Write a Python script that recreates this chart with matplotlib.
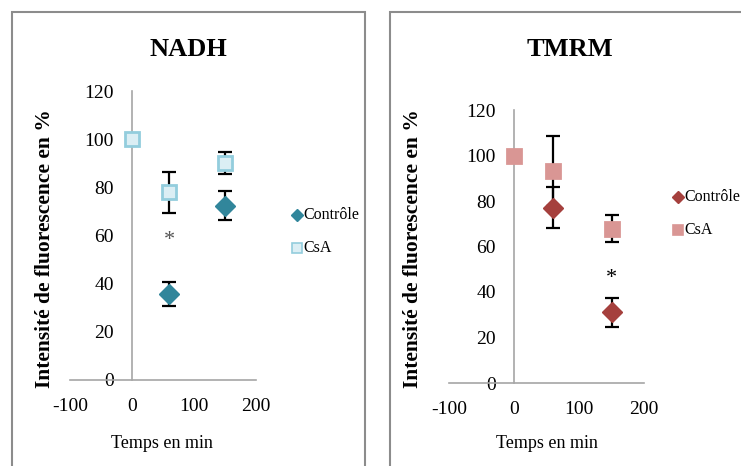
import matplotlib.pyplot as plt
from matplotlib.patches import Rectangle

# temps (min) et intensités (%)
t_ctrl = [60, 150]
t_csa = [0, 60, 150]

nadh_ctrl = [35.7, 72.4]
nadh_ctrl_err = [5.0, 6.0]
nadh_csa = [100, 78.0, 90.0]
nadh_csa_err = [0, 8.5, 4.5]
nadh_star = (60, 58)

tmrm_ctrl = [77.0, 31.0]
tmrm_ctrl_err = [9.0, 6.2]
tmrm_csa = [100, 93.2, 67.8]
tmrm_csa_err = [0, 15.2, 6.0]
tmrm_star = (150, 46)

xticks = [-100, 0, 100, 200]
yticks = [0, 20, 40, 60, 80, 100, 120]

plt.rcParams['font.family'] = ['Liberation Serif', 'DejaVu Serif']
plt.rcParams['axes.unicode_minus'] = False

fig = plt.figure(figsize=(7.41, 4.66), dpi=100)


def panel(rect, title, ctrl, ctrl_err, csa, csa_err, star, c_ctrl, c_fill, c_edge, star_col,
          title_xy, ylab_x, xlab_x, leg_xy):
    ax = fig.add_axes(rect)
    ax.set_xlim(-100, 200)
    ax.set_ylim(0, 120)
    for s in ['top', 'right']:
        ax.spines[s].set_visible(False)
    ax.spines['left'].set_position(('data', 0))
    ax.spines['bottom'].set_position(('data', 0))
    for s in ['left', 'bottom']:
        ax.spines[s].set_color('#a6a6a6')
        ax.spines[s].set_linewidth(1.2)
    ax.set_xticks(xticks)
    ax.set_yticks(yticks)
    ax.tick_params(length=0, labelsize=14)
    ax.tick_params(axis='y', pad=13)
    ax.tick_params(axis='x', pad=13)
    ax.patch.set_visible(False)

    ax.errorbar(t_ctrl, ctrl, yerr=ctrl_err, fmt='none', ecolor='black',
                elinewidth=1.6, capsize=5, capthick=1.6, zorder=2)
    ax.errorbar(t_csa, csa, yerr=csa_err, fmt='none', ecolor='black',
                elinewidth=1.6, capsize=5, capthick=1.6, zorder=2)
    ax.plot(t_csa, csa, ls='none', marker='s', ms=10.5, mfc=c_fill, mec=c_edge,
            mew=2, zorder=3, label='CsA', clip_on=False)
    ax.plot(t_ctrl, ctrl, ls='none', marker='D', ms=10, color=c_ctrl,
            zorder=4, label='Contrôle', clip_on=False)
    ax.text(star[0], star[1], '*', ha='center', va='center', fontsize=16, color=star_col)

    fig.text(title_xy[0] / 741, 1 - title_xy[1] / 466, title, ha='center', va='center',
             fontsize=19, fontweight='bold')
    fig.text(ylab_x / 741, 1 - 249 / 466, 'Intensité de fluorescence en %', rotation=90,
             ha='center', va='center', fontsize=15.5, fontweight='bold')
    fig.text(xlab_x / 741, 1 - 443 / 466, 'Temps en min', ha='center', va='center', fontsize=13)

    # légende
    lx, ly = leg_xy
    fig.lines.append(plt.Line2D([lx / 741], [1 - ly / 466], transform=fig.transFigure,
                                marker='D', ms=6, color=c_ctrl, ls='none'))
    fig.text((lx + 6) / 741, 1 - ly / 466, 'Contrôle', ha='left', va='center', fontsize=11.5)
    fig.lines.append(plt.Line2D([lx / 741], [1 - (ly + 33) / 466], transform=fig.transFigure,
                                marker='s', ms=7, mfc=c_fill, mec=c_edge, mew=1.2, ls='none'))
    fig.text((lx + 6) / 741, 1 - (ly + 33) / 466, 'CsA', ha='left', va='center', fontsize=11.5)


panel([70 / 741, 86 / 466, 186 / 741, 289 / 466], 'NADH',
      nadh_ctrl, nadh_ctrl_err, nadh_csa, nadh_csa_err, nadh_star,
      '#31869b', '#dbeef4', '#93cddd', '#555555',
      (188, 50), 45, 162, (297, 215))
panel([449 / 741, 83 / 466, 195 / 741, 273 / 466], 'TMRM',
      tmrm_ctrl, tmrm_ctrl_err, tmrm_csa, tmrm_csa_err, tmrm_star,
      '#a5403d', '#d99694', '#d99694', 'black',
      (570, 50), 413, 547, (678, 197))

# cadres des deux graphiques
fig.patches.append(Rectangle((12 / 741, -0.1), 353 / 741, 1.1 - 12 / 466, transform=fig.transFigure,
                             fill=False, ec='#8c8c8c', lw=1.5))
fig.patches.append(Rectangle((390 / 741, -0.1), 0.6, 1.1 - 12 / 466, transform=fig.transFigure,
                             fill=False, ec='#8c8c8c', lw=1.5))

fig.savefig('out.png', dpi=100)
